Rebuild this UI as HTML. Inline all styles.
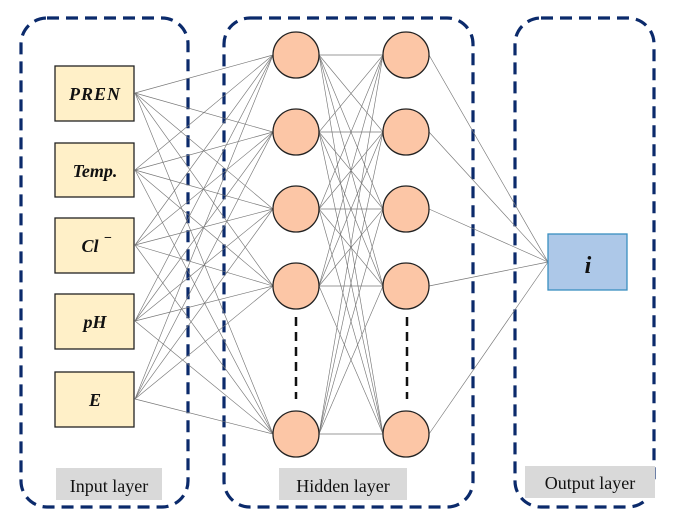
<!DOCTYPE html>
<html><head><meta charset="utf-8"><style>
html,body{margin:0;padding:0;background:#fff;}
svg{display:block;}
text{font-family:"Liberation Serif",serif;}
</style></head><body>
<svg width="674" height="527" viewBox="0 0 674 527" xmlns="http://www.w3.org/2000/svg">
<g fill="none" stroke="#0b2a6b" stroke-width="3.2" stroke-dasharray="12,7">
<rect x="21" y="18" width="167" height="489" rx="26"/>
<rect x="224" y="18" width="249" height="489" rx="26"/>
<rect x="515" y="18" width="139" height="489" rx="26"/>
</g>
<g stroke="#777" stroke-width="0.65">
<g>
<line x1="135" y1="93" x2="273" y2="55"/><line x1="135" y1="93" x2="273" y2="132"/><line x1="135" y1="93" x2="273" y2="209"/><line x1="135" y1="93" x2="273" y2="286"/><line x1="135" y1="93" x2="273" y2="434"/>
<line x1="135" y1="170" x2="273" y2="55"/><line x1="135" y1="170" x2="273" y2="132"/><line x1="135" y1="170" x2="273" y2="209"/><line x1="135" y1="170" x2="273" y2="286"/><line x1="135" y1="170" x2="273" y2="434"/>
<line x1="135" y1="245" x2="273" y2="55"/><line x1="135" y1="245" x2="273" y2="132"/><line x1="135" y1="245" x2="273" y2="209"/><line x1="135" y1="245" x2="273" y2="286"/><line x1="135" y1="245" x2="273" y2="434"/>
<line x1="135" y1="321" x2="273" y2="55"/><line x1="135" y1="321" x2="273" y2="132"/><line x1="135" y1="321" x2="273" y2="209"/><line x1="135" y1="321" x2="273" y2="286"/><line x1="135" y1="321" x2="273" y2="434"/>
<line x1="135" y1="399" x2="273" y2="55"/><line x1="135" y1="399" x2="273" y2="132"/><line x1="135" y1="399" x2="273" y2="209"/><line x1="135" y1="399" x2="273" y2="286"/><line x1="135" y1="399" x2="273" y2="434"/>
</g>
<g>
<line x1="319" y1="55" x2="383" y2="55"/><line x1="319" y1="55" x2="383" y2="132"/><line x1="319" y1="55" x2="383" y2="209"/><line x1="319" y1="55" x2="383" y2="286"/><line x1="319" y1="55" x2="383" y2="434"/>
<line x1="319" y1="132" x2="383" y2="55"/><line x1="319" y1="132" x2="383" y2="132"/><line x1="319" y1="132" x2="383" y2="209"/><line x1="319" y1="132" x2="383" y2="286"/><line x1="319" y1="132" x2="383" y2="434"/>
<line x1="319" y1="209" x2="383" y2="55"/><line x1="319" y1="209" x2="383" y2="132"/><line x1="319" y1="209" x2="383" y2="209"/><line x1="319" y1="209" x2="383" y2="286"/><line x1="319" y1="209" x2="383" y2="434"/>
<line x1="319" y1="286" x2="383" y2="55"/><line x1="319" y1="286" x2="383" y2="132"/><line x1="319" y1="286" x2="383" y2="209"/><line x1="319" y1="286" x2="383" y2="286"/><line x1="319" y1="286" x2="383" y2="434"/>
<line x1="319" y1="434" x2="383" y2="55"/><line x1="319" y1="434" x2="383" y2="132"/><line x1="319" y1="434" x2="383" y2="209"/><line x1="319" y1="434" x2="383" y2="286"/><line x1="319" y1="434" x2="383" y2="434"/>
</g>
<line x1="429" y1="55" x2="548" y2="262"/><line x1="429" y1="132" x2="548" y2="262"/><line x1="429" y1="209" x2="548" y2="262"/><line x1="429" y1="286" x2="548" y2="262"/><line x1="429" y1="434" x2="548" y2="262"/>
</g>
<g fill="#fff0c8" stroke="#222" stroke-width="1.3">
<rect x="55" y="66" width="79" height="55"/>
<rect x="55" y="143" width="79" height="54"/>
<rect x="55" y="218" width="79" height="55"/>
<rect x="55" y="294" width="79" height="55"/>
<rect x="55" y="372" width="79" height="55"/>
</g>
<g font-weight="bold" font-style="italic" font-size="18" text-anchor="middle" fill="#111">
<text x="95" y="100" letter-spacing="1">PREN</text>
<text x="95" y="177">Temp.</text>
<text x="90" y="252">Cl</text><text x="108" y="242" font-size="14" font-style="normal">−</text>
<text x="95" y="328">pH</text>
<text x="95" y="406">E</text>
</g>
<g fill="#fcc6a6" stroke="#222" stroke-width="1.3">
<circle cx="296" cy="55" r="23"/><circle cx="296" cy="132" r="23"/><circle cx="296" cy="209" r="23"/><circle cx="296" cy="286" r="23"/><circle cx="296" cy="434" r="23"/>
<circle cx="406" cy="55" r="23"/><circle cx="406" cy="132" r="23"/><circle cx="406" cy="209" r="23"/><circle cx="406" cy="286" r="23"/><circle cx="406" cy="434" r="23"/>
</g>
<g stroke="#111" stroke-width="2.5" stroke-dasharray="9,6">
<line x1="296" y1="317" x2="296" y2="399"/>
<line x1="407" y1="317" x2="407" y2="399"/>
</g>
<rect x="548" y="234" width="79" height="56" fill="#adc8e8" stroke="#3a8fc0" stroke-width="1.3"/>
<text x="588" y="273" font-size="24" font-weight="bold" font-style="italic" text-anchor="middle" fill="#111">i</text>
<g fill="#d9d9d9">
<rect x="56" y="468" width="106" height="32"/>
<rect x="279" y="468" width="128" height="32"/>
<rect x="525" y="466" width="130" height="32"/>
</g>
<g font-size="18" text-anchor="middle" fill="#111">
<text x="109" y="492">Input layer</text>
<text x="343" y="492">Hidden layer</text>
<text x="590" y="489">Output layer</text>
</g>
</svg>
</body></html>
